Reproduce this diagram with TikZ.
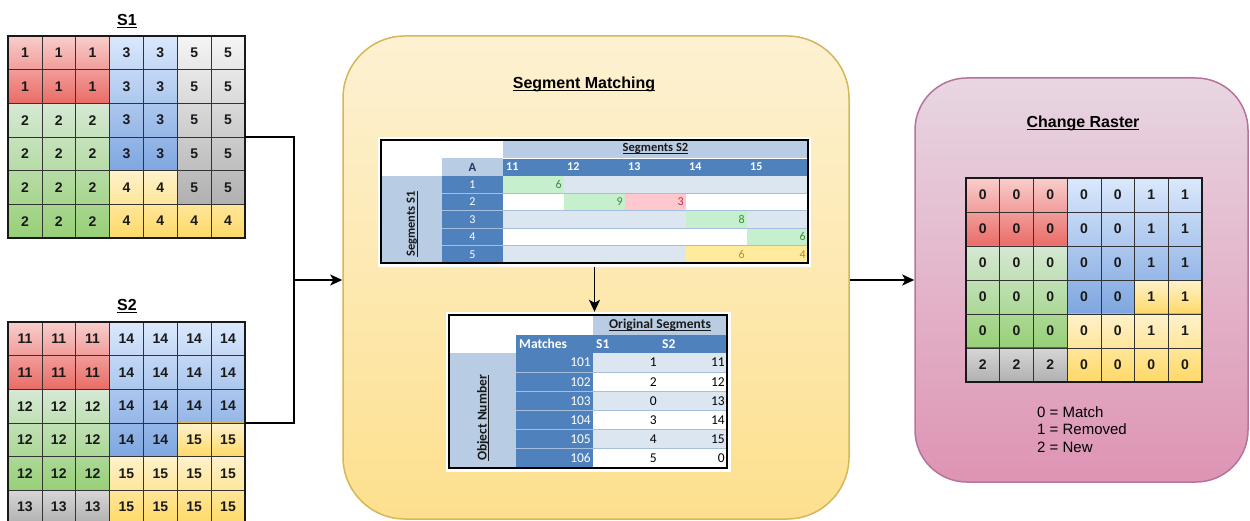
\documentclass[tikz,border=0pt]{standalone}
\usepackage{fontspec}
\setmainfont{Liberation Sans}
\newfontfamily\calibri{Carlito}
\usepackage{tikz}
\usetikzlibrary{arrows.meta,positioning}

\definecolor{redtop}{HTML}{F8CECC}
\definecolor{redbot}{HTML}{EA6B66}
\definecolor{redline}{HTML}{B85450}
\definecolor{bluetop}{HTML}{DAE8FC}
\definecolor{bluebot}{HTML}{7EA6E0}
\definecolor{blueline}{HTML}{6C8EBF}
\definecolor{greentop}{HTML}{D5E8D4}
\definecolor{greenbot}{HTML}{97D077}
\definecolor{greenline}{HTML}{82B366}
\definecolor{yellowtop}{HTML}{FFF2CC}
\definecolor{yellowbot}{HTML}{FFD966}
\definecolor{yellowline}{HTML}{D6B656}
\definecolor{graytop}{HTML}{F5F5F5}
\definecolor{graymid}{HTML}{D6D6D6}
\definecolor{graybot}{HTML}{B0B0B0}
\definecolor{grayline}{HTML}{666666}
\definecolor{matchtop}{HTML}{FDF1D2}
\definecolor{matchbot}{HTML}{FDE08E}
\definecolor{rastertop}{HTML}{E8D6E2}
\definecolor{rasterbot}{HTML}{DE94B4}
\definecolor{rasterline}{HTML}{B5739D}
\definecolor{xldark}{HTML}{4F81BD}
\definecolor{xllight}{HTML}{B8CCE4}
\definecolor{xlrow}{HTML}{DCE6F1}
\definecolor{xlsepcol}{HTML}{A7BFDE}
\definecolor{xlnavy}{HTML}{1F3864}
\definecolor{goodbg}{HTML}{C6EFCE}
\definecolor{goodfg}{HTML}{3D8B3D}
\definecolor{badbg}{HTML}{FFC7CE}
\definecolor{badfg}{HTML}{C0283C}
\definecolor{neutralbg}{HTML}{FFEB9C}
\definecolor{neutralfg}{HTML}{BF8A2E}

\newcommand\undertext[2][1.2pt]{\setbox0\hbox{#2}\rlap{\rule[-2.4pt]{\wd0}{#1}}\box0}

\newcommand\cellvalues[2]{%
  \foreach \rowlist [count=\rw] in {#2} {%
    \foreach \val [count=\cl] in \rowlist {%
      \node[cellnum] (#1-\rw-\cl) at (\cl-0.5,\rw-0.5) {\val};
    }
  }
}

\tikzset{
  redzone/.style={top color=redtop, bottom color=redbot, draw=redline, line width=1.2pt},
  greenzone/.style={top color=greentop, bottom color=greenbot, draw=greenline, line width=1.2pt},
  bluezone/.style={top color=bluetop, bottom color=bluebot, draw=blueline, line width=1.2pt},
  yellowzone/.style={top color=yellowtop, bottom color=yellowbot, draw=yellowline, line width=1.2pt},
  grayzone/.style={top color=graytop, bottom color=graybot, draw=grayline, line width=1.2pt},
  grayrow/.style={top color=graymid, bottom color=graybot, draw=grayline, line width=1.2pt},
  gridlines/.style={draw=black!80, line width=0.6pt},
  gridframe/.style={draw=black!90, line width=1.8pt},
  cellnum/.style={inner sep=0pt, font=\fontsize{14}{16}\selectfont\bfseries, text=black!90},
  gridtitle/.style={inner sep=0pt, anchor=base, font=\fontsize{16}{18}\selectfont\bfseries},
  matchbox/.style={top color=matchtop, bottom color=matchbot, draw=yellowline, line width=1.5pt, rounded corners=62pt, inner sep=0pt},
  rasterbox/.style={top color=rastertop, bottom color=rasterbot, draw=rasterline, line width=1.5pt, rounded corners=52pt, inner sep=0pt},
  xlframe/.style={draw=black, line width=2.4pt},
  xlsep/.style={draw=xlsepcol, line width=0.8pt},
  xlhead/.style={inner sep=0pt, font=\calibri\fontsize{12.5}{14}\selectfont\bfseries, text=black!90},
  xlcol/.style={inner sep=0pt, font=\calibri\fontsize{12}{14}\selectfont\bfseries, text=white},
  xlnum/.style={inner sep=0pt, font=\calibri\fontsize{12}{14}\selectfont},
  xlhead2/.style={inner sep=0pt, font=\calibri\fontsize{13.5}{15}\selectfont\bfseries, text=black!90},
  xlcol2/.style={inner sep=0pt, font=\calibri\fontsize{13.5}{15}\selectfont\bfseries, text=white},
  xlnum2/.style={inner sep=0pt, font=\calibri\fontsize{13.5}{15}\selectfont},
  conn/.style={draw=black, line width=1.8pt},
  arrow/.style={conn, -{Stealth[length=12pt,width=11pt,inset=3pt]}}
}

\begin{document}
\begin{tikzpicture}[x=1pt,y=-1pt]
  \useasboundingbox (0,0) rectangle (1250,521);
  \clip (0,0) rectangle (1250,521);

  \node[matchbox, minimum width=506pt, minimum height=483pt] (match) at (596,277.5) {};
  \node[rasterbox, minimum width=333pt, minimum height=404pt] (raster) at (1081.5,280) {};
  \node[gridtitle] (matchtitle) at (584,89) {\undertext{Segment Matching}};
  \node[gridtitle] (rastertitle) at (1083,128) {\undertext{Change Raster}};

  % S1
  \node[gridtitle] (s1title) at (127,26) {\undertext{S1}};
  \begin{scope}[shift={(8,36)}, x=33.85pt, y=-33.67pt]
    \path[redzone] (0,0) rectangle (3,2);
    \path[greenzone] (0,2) rectangle (3,6);
    \path[bluezone] (3,0) rectangle (5,4);
    \path[grayzone] (5,0) rectangle (7,5);
    \path[yellowzone] (3,4) -- (5,4) -- (5,5) -- (7,5) -- (7,6) -- (3,6) -- cycle;
    \foreach \i in {1,...,6} \draw[gridlines] (\i,0) -- (\i,6);
    \foreach \j in {1,...,5} \draw[gridlines] (0,\j) -- (7,\j);
    \draw[gridframe] (0,0) rectangle (7,6);
    \cellvalues{s1}{{1,1,1,3,3,5,5},{1,1,1,3,3,5,5},{2,2,2,3,3,5,5},{2,2,2,3,3,5,5},{2,2,2,4,4,5,5},{2,2,2,4,4,4,4}}
    \coordinate (s1out) at (7,3);
  \end{scope}

  % S2
  \node[gridtitle] (s2title) at (127,311) {\undertext{S2}};
  \begin{scope}[shift={(8,322)}, x=33.85pt, y=-33.67pt]
    \path[redzone] (0,0) rectangle (3,2);
    \path[greenzone] (0,2) rectangle (3,5);
    \path[grayrow] (0,5) rectangle (3,6);
    \path[bluezone] (3,0) -- (7,0) -- (7,3) -- (5,3) -- (5,4) -- (3,4) -- cycle;
    \path[yellowzone] (5,3) rectangle (7,4);
    \path[yellowzone] (3,4) rectangle (7,6);
    \foreach \i in {1,...,6} \draw[gridlines] (\i,0) -- (\i,6);
    \foreach \j in {1,...,5} \draw[gridlines] (0,\j) -- (7,\j);
    \draw[gridframe] (0,0) rectangle (7,6);
    \cellvalues{s2}{{11,11,11,14,14,14,14},{11,11,11,14,14,14,14},{12,12,12,14,14,14,14},{12,12,12,14,14,15,15},{12,12,12,15,15,15,15},{13,13,13,15,15,15,15}}
    \coordinate (s2out) at (7,3);
  \end{scope}

  % change raster
  \begin{scope}[shift={(966,178)}, x=33.7pt, y=-34pt]
    \path[redzone] (0,0) rectangle (3,2);
    \path[greenzone] (0,2) rectangle (3,5);
    \path[grayrow] (0,5) rectangle (3,6);
    \path[bluezone] (3,0) -- (7,0) -- (7,3) -- (5,3) -- (5,4) -- (3,4) -- cycle;
    \path[yellowzone] (5,3) rectangle (7,4);
    \path[yellowzone] (3,4) rectangle (7,6);
    \foreach \i in {1,...,6} \draw[gridlines] (\i,0) -- (\i,6);
    \foreach \j in {1,...,5} \draw[gridlines] (0,\j) -- (7,\j);
    \draw[gridframe] (0,0) rectangle (7,6);
    \cellvalues{cr}{{0,0,0,0,0,1,1},{0,0,0,0,0,1,1},{0,0,0,0,0,1,1},{0,0,0,0,0,1,1},{0,0,0,0,0,1,1},{2,2,2,0,0,0,0}}
  \end{scope}
  \node[inner sep=0pt, anchor=north west, align=left, font=\fontsize{15}{17.5}\selectfont] (legend) at (1037,406) {0 = Match\\1 = Removed\\2 = New};

  % matrix table
  \node[fill=white, minimum width=433pt, minimum height=130pt, inner sep=0pt] (tab1) at (594.5,202) {};
  \fill[xllight] (503,140) rectangle (808,158);
  \fill[xllight] (442,158) rectangle (503,176);
  \fill[xldark] (503,158) rectangle (808,176);
  \fill[xllight] (381,176) rectangle (442,263);
  \fill[xldark] (442,176) rectangle (503,263);
  \foreach \rw in {1,3,5} \fill[xlrow] (503,{158.6+17.4*\rw}) rectangle (808,{176+17.4*\rw});
  \foreach \cl/\rw/\val/\kind in {1/1/6/good,2/2/9/good,3/2/3/bad,4/3/8/good,5/4/6/good,4/5/6/neutral,5/5/4/neutral} {
    \fill[\kind bg] ({442+61*\cl},{158.6+17.4*\rw}) rectangle ({503+61*\cl},{176+17.4*\rw});
    \node[xlnum, text=\kind fg, anchor=east] (m\rw-\cl) at ({501+61*\cl},{167.3+17.4*\rw}) {\val};
  }
  \foreach \rw in {1,...,4} \draw[xlsep] (442,{176+17.4*\rw}) -- (808,{176+17.4*\rw});
  \draw[white, line width=0.8pt] (503,158) -- (808,158);
  \node[xlhead] (segs2) at (655.5,149) {\undertext[0.8pt]{Segments S2}};
  \node[xlhead, text=xlnavy] (acell) at (472.5,167) {A};
  \foreach \val [count=\cl] in {11,12,13,14,15} \node[xlcol, anchor=west] (c\val) at ({445+61*\cl},167) {\val};
  \foreach \rw in {1,...,5} \node[xlnum, text=white] (r\rw) at (472.5,{167.3+17.4*\rw}) {\rw};
  \node[xlhead, rotate=90] (segs1) at (412,224) {\undertext[0.8pt]{Segments S1}};
  \draw[xlframe] (381,140) rectangle (808,263);

  % match table
  \node[fill=white, minimum width=285pt, minimum height=160pt, inner sep=0pt] (tab2) at (588.5,392) {};
  \fill[xllight] (593,315) rectangle (727,335);
  \fill[xldark] (516,335) rectangle (727,353);
  \fill[xllight] (449,353) rectangle (516,468);
  \fill[xldark] (516,353) rectangle (593,468);
  \foreach \rw in {1,3,5} \fill[xlrow] (593,{333.83+19.17*\rw}) rectangle (727,{353+19.17*\rw});
  \foreach \rw in {1,...,5} \draw[xlsep] (516,{353+19.17*\rw}) -- (727,{353+19.17*\rw});
  \node[xlhead2] (orig) at (660,325) {\undertext[0.8pt]{Original Segments}};
  \node[xlcol2, anchor=west] (matches) at (519,344) {Matches};
  \node[xlcol2, anchor=west] (hs1) at (596,344) {S1};
  \node[xlcol2, anchor=west] (hs2) at (662,344) {S2};
  \node[xlhead2, rotate=90] (objnum) at (483,418) {\undertext[0.8pt]{Object Number}};
  \foreach \obj/\sa/\sb [count=\rw] in {101/1/11,102/2/12,103/0/13,104/3/14,105/4/15,106/5/0} {
    \node[xlnum2, text=white, anchor=east] (o\obj) at (591,{343.4+19.17*\rw}) {\obj};
    \node[xlnum2, anchor=east] (o\obj-s1) at (657,{343.4+19.17*\rw}) {\sa};
    \node[xlnum2, anchor=east] (o\obj-s2) at (725,{343.4+19.17*\rw}) {\sb};
  }
  \draw[xlframe] (449,315) rectangle (727,468);

  \coordinate (join) at (294,280);
  \draw[conn] (s1out) -| (join);
  \draw[conn] (s2out) -| (join);
  \draw[arrow] (join) -- (join -| match.west);
  \draw[arrow] (match.east |- join) -- (raster.west |- join);
  \draw[arrow] (tab1.south) -- (tab1.south |- tab2.north);
\end{tikzpicture}
\end{document}
